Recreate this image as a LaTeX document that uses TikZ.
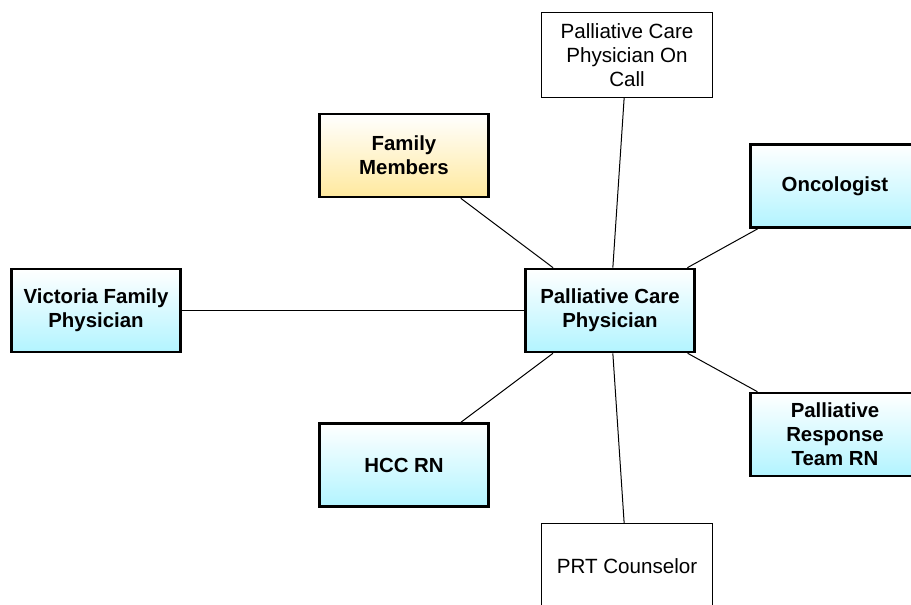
\documentclass[tikz,border=0pt]{standalone}
\usepackage{fontspec}
\setmainfont{Liberation Sans}
\usepackage{xcolor}
\usepackage{tikz}
\usetikzlibrary{positioning}
\definecolor{roleCyan}{RGB}{178,244,255}
\definecolor{roleGold}{RGB}{255,233,158}

\begin{document}
\begin{tikzpicture}[x=1pt,y=-1pt,
  rolebox/.style={draw,line width=2.6pt,minimum width=169pt,minimum height=83pt,
    align=center,font=\fontsize{20.4}{24}\selectfont\bfseries,
    top color=white,bottom color=roleCyan},
  famrole/.style={rolebox,bottom color=roleGold},
  plainbox/.style={draw,line width=1.2pt,fill=white,minimum width=171pt,minimum height=85pt,
    align=center,font=\fontsize{20.6}{24}\selectfont},
  link/.style={draw,line width=1pt}]
  \useasboundingbox (0,0) rectangle (911,605);
  % outer roles
  \node[plainbox] (oncall) at (627,55) {Palliative Care\\Physician On\\Call};
  \node[plainbox] (prtc) at (627,566) {PRT Counselor};
  \node[famrole] (family) at (404,155.5) {Family\\Members};
  \node[rolebox] (onc) at (835,186) {Oncologist};
  \node[rolebox] (vic) at (96,310.5) {Victoria Family\\Physician};
  \node[rolebox] (hcc) at (404,465) {HCC RN};
  \node[rolebox] (prtrn) at (835,434.5) {Palliative\\Response\\Team RN};
  % hub
  \node[rolebox] (pcp) at (610,310.5) {Palliative Care\\Physician};
  \foreach \r in {oncall,prtc,family,onc,vic,hcc,prtrn}
    \path[link] (pcp) -- (\r);
\end{tikzpicture}
\end{document}
